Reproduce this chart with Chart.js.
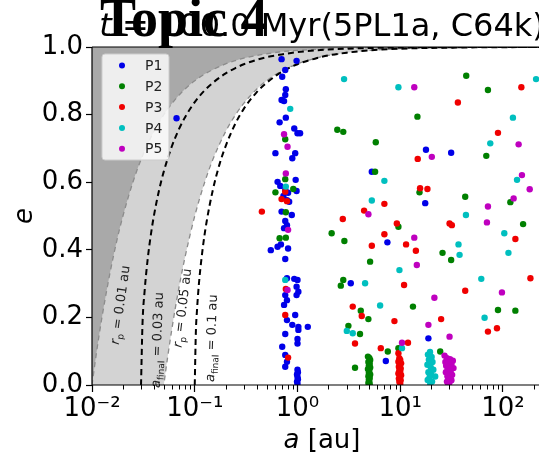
<!DOCTYPE html>
<html><head><meta charset="utf-8">
<script src="https://cdn.jsdelivr.net/npm/chart.js@4/dist/chart.umd.min.js"></script>
<style>
html,body{margin:0;padding:0;background:#fff;overflow:hidden;width:539px;height:455px;}
#wrap{position:relative;width:539px;height:455px;overflow:hidden;background:#fff;}
#c{position:absolute;left:0;top:0;width:580px;height:455px;}
#topic{position:absolute;left:100px;top:-9px;font:bold 54px "Liberation Serif";line-height:54px;color:#000;white-space:nowrap;z-index:2;}
</style></head><body>
<div id="wrap"><canvas id="c" width="580" height="455"></canvas><div id="topic">Topic 4</div></div>
<script>
// ---------- data (semi-major axis a [au], eccentricity e) ----------
const seriesNames = ['P1','P2','P3','P4','P5'];
const p1A = [0.70,0.98,0.76,0.71,0.77,0.76,0.70,0.74,0.67,0.77,0.93,1.00,1.06,0.61,0.95,0.89,0.64,0.96,0.68,0.76,0.81,0.98,0.73,0.79,0.83,0.70,0.88,0.76,0.79,0.74,0.55,0.64,0.69,0.81,0.76,0.79,0.93,1.00,0.98,1.02,0.98,0.76,0.79,0.74,0.95,0.79,0.89,1.02,1.26,1.02,0.76,1.00,1.00,0.71,0.76,0.79,0.76,1.00,1.01,0.99,1.00,1.01,0.99,1.00,0.0665,17.8,5.29,17.5,7.50,3.30,18.8,7.24,31.3];
const p1E = [0.964,0.959,0.932,0.912,0.875,0.858,0.843,0.840,0.777,0.791,0.759,0.745,0.745,0.686,0.686,0.671,0.601,0.607,0.589,0.577,0.569,0.574,0.559,0.547,0.542,0.513,0.503,0.485,0.473,0.464,0.399,0.409,0.416,0.404,0.373,0.316,0.314,0.311,0.291,0.276,0.266,0.266,0.251,0.237,0.207,0.192,0.178,0.172,0.172,0.163,0.151,0.136,0.123,0.113,0.089,0.069,0.054,0.045,0.038,0.031,0.024,0.017,0.010,0.004,0.789,0.696,0.631,0.538,0.422,0.301,0.138,0.071,0.687];
const p2A = [0.76,0.76,0.61,0.91,0.77,0.67,0.77,2.44,2.79,14.7,5.78,5.69,15.4,43.9,71.4,68.8,42.9,118,2.15,2.86,9.60,5.09,2.79,2.64,4.13,4.90,3.13,4.06,7.57,9.60,3.63,13.3,157,25.8,31.3,89.4,132,24.5,4.85,5.0,5.1,4.9,5.05,4.95,5.1,4.85,5.0,4.95,5.1,4.9,5.05,4.95,5.0,4.9,5.05];
const p2E = [0.727,0.609,0.570,0.580,0.511,0.434,0.436,0.755,0.749,0.794,0.718,0.631,0.570,0.915,0.873,0.678,0.557,0.541,0.449,0.426,0.468,0.365,0.311,0.294,0.220,0.195,0.175,0.151,0.099,0.109,0.051,0.232,0.476,0.391,0.370,0.222,0.220,0.099,0.084,0.080,0.074,0.068,0.063,0.057,0.052,0.047,0.042,0.036,0.031,0.026,0.021,0.016,0.011,0.006,0.002];
const p3A = [0.76,0.70,0.79,0.45,0.77,0.76,0.81,14.8,15.6,18.4,7.01,4.45,2.76,9.27,7.01,5.29,11.4,14.2,10.9,3.45,4.22,8.78,3.63,6.47,11.9,9.60,151,36.4,89.4,30.2,31.8,132,185,42.9,25.0,71.4,87.4,9.8,10.0,9.6,10.2,9.9,9.7,10.1,9.8,10.0,9.6,10.2,9.9,9.7,10.1,9.8,10.0];
const p3E = [0.572,0.550,0.544,0.513,0.284,0.207,0.081,0.669,0.582,0.580,0.536,0.516,0.491,0.478,0.446,0.412,0.416,0.397,0.296,0.232,0.204,0.189,0.123,0.109,0.125,0.094,0.881,0.836,0.746,0.478,0.473,0.432,0.316,0.279,0.195,0.158,0.168,0.079,0.074,0.069,0.064,0.059,0.054,0.049,0.044,0.039,0.034,0.029,0.024,0.019,0.014,0.009,0.004];
const p4A = [0.85,0.77,0.76,2.84,9.60,7.01,5.29,4.55,6.37,9.82,3.02,3.45,10.4,210,125,75.2,137,43.6,103,36.9,37.8,113,61.5,66.2,19.5,18.6,20.2,19.0,20.6,18.4,19.8,21.0,18.8,20.0,19.3,21.9,18.5,20.4,19.6];
const p4E = [0.817,0.587,0.311,0.905,0.881,0.604,0.546,0.301,0.235,0.340,0.160,0.153,0.109,0.905,0.791,0.715,0.607,0.503,0.449,0.416,0.385,0.391,0.314,0.199,0.098,0.090,0.083,0.075,0.068,0.060,0.053,0.045,0.038,0.030,0.023,0.025,0.015,0.010,0.004];
const p5A = [0.74,0.80,0.77,0.81,0.80,13.7,20.3,4.90,13.7,14.5,21.5,18.8,10.4,142,153,182,127,71.4,69.8,97.7,30.2,27.0,28.5,30.5,32.5,27.5,29.5,31.5,28.0,30.0,33.0,29.0,31.0,27.8,30.2,32.0,28.8,30.8,29.5,31.5,28.5,30.0,29.2];
const p5E = [0.742,0.705,0.626,0.459,0.281,0.881,0.675,0.505,0.436,0.355,0.258,0.178,0.125,0.712,0.621,0.579,0.552,0.528,0.481,0.274,0.143,0.087,0.079,0.076,0.072,0.068,0.065,0.061,0.057,0.053,0.050,0.046,0.042,0.038,0.034,0.030,0.026,0.022,0.018,0.014,0.010,0.006,0.002];

// boundary curves
const rpA   = [0.01,0.011,0.0125,0.015,0.0175,0.02,0.025,0.03,0.035,0.04,0.05,0.06,0.07,0.08,0.1,0.125,0.15,0.2,0.25,0.3,0.4,0.5,0.7,1,1.5,2,3,5,10,30,100,300];
const rp001E = [0,0.091,0.2,0.333,0.429,0.5,0.6,0.667,0.714,0.75,0.8,0.833,0.857,0.875,0.9,0.92,0.933,0.95,0.96,0.967,0.975,0.98,0.986,0.99,0.993,0.995,0.997,0.998,0.999,0.9997,0.9999,1.0];
const rp005E = [-4,-3.545,-3,-2.333,-1.857,-1.5,-1,-0.667,-0.429,-0.25,0,0.167,0.286,0.375,0.5,0.6,0.667,0.75,0.8,0.833,0.875,0.9,0.929,0.95,0.967,0.975,0.983,0.99,0.995,0.998,0.9995,0.9998];
const af003A = [0.03,0.031,0.0325,0.035,0.0375,0.04,0.045,0.05,0.06,0.07,0.08,0.1,0.125,0.15,0.2,0.25,0.3,0.4,0.5,0.7,1,1.5,2,3,5,10,30,100,300];
const af003E = [0,0.180,0.277,0.378,0.447,0.5,0.577,0.632,0.707,0.756,0.791,0.837,0.872,0.894,0.922,0.938,0.949,0.962,0.970,0.978,0.985,0.990,0.9925,0.995,0.997,0.9985,0.9995,0.99985,0.99995];
const af01A = [0.1,0.1025,0.105,0.11,0.12,0.13,0.15,0.175,0.2,0.25,0.3,0.4,0.5,0.7,1,1.5,2,3,5,10,30,100,300];
const af01E = [0,0.156,0.218,0.302,0.408,0.480,0.577,0.655,0.707,0.775,0.817,0.866,0.894,0.926,0.949,0.966,0.975,0.983,0.990,0.995,0.998,0.9995,0.9998];

const xTickValues = [0.01,0.1,1,10,100];
const xTickLabels = ['10\u207B\u00B2','10\u207B\u00B9','10\u2070','10\u00B9','10\u00B2'];
const xMinorTicks = [0.02,0.03,0.04,0.05,0.06,0.07,0.08,0.09,0.2,0.3,0.4,0.5,0.6,0.7,0.8,0.9,2,3,4,5,6,7,8,9,20,30,40,50,60,70,80,90,200,300];
const yTickValues = [0,0.2,0.4,0.6,0.8,1.0];

// ---------- styling ----------
const colors = ['#0000e8','#008000','#f00000','#00bfbf','#bf00bf'];
const FONT = '"DejaVu Sans"';
const pts = (A,E)=>A.map((a,i)=>({x:a,y:E[i]}));
const seriesA = [p1A,p2A,p3A,p4A,p5A], seriesE = [p1E,p2E,p3E,p4E,p5E];

const datasets = seriesNames.map((n,i)=>({
  label:n, data:pts(seriesA[i],seriesE[i]), backgroundColor:colors[i], borderColor:colors[i],
  borderWidth:0, pointRadius:3.2, pointHoverRadius:3.2, order:5-i, clip:0, showLine:false
}));
const curveBase = {type:'line', pointRadius:0, pointHoverRadius:0, cubicInterpolationMode:'monotone', clip:0};
datasets.push(Object.assign({}, curveBase, {label:'rp005', data:pts(rpA,rp005E), fill:'end', backgroundColor:'#d3d3d3', borderColor:'#8c8c8c', borderWidth:1.3, borderDash:[5,4], order:21}));
datasets.push(Object.assign({}, curveBase, {label:'rp001', data:pts(rpA,rp001E), fill:'end', backgroundColor:'#a9a9a9', borderColor:'#8c8c8c', borderWidth:1.3, borderDash:[5,4], order:20}));
datasets.push(Object.assign({}, curveBase, {label:'af003', data:pts(af003A,af003E), fill:false, borderColor:'#000', borderWidth:2, borderDash:[6,4], order:11}));
datasets.push(Object.assign({}, curveBase, {label:'af01', data:pts(af01A,af01E), fill:false, borderColor:'#000', borderWidth:2, borderDash:[6,4], order:10}));

const curveLabels = [
  {a:0.0186, e:0.237, ang:-82, parts:[{t:'r',it:1},{t:'p',sub:1},{t:' = 0.01 au'}]},
  {a:0.0427, e:0.133, ang:-88, parts:[{t:'a',it:1},{t:'final',sub:1},{t:' = 0.03 au'}]},
  {a:0.0749, e:0.228, ang:-83, parts:[{t:'r',it:1},{t:'p',sub:1},{t:' = 0.05 au'}]},
  {a:0.1435, e:0.139, ang:-88, parts:[{t:'a',it:1},{t:'final',sub:1},{t:' = 0.1 au'}]}
];

function drawRich(ctx, parts, cx, cy, ang, size, yOff, color){
  ctx.save();
  ctx.translate(cx,cy); ctx.rotate(ang*Math.PI/180);
  const f = p => (p.it?'italic ':'') + (p.sub?Math.round(size*0.7):size) + 'px ' + FONT;
  let w = 0;
  parts.forEach(p=>{ctx.font=f(p); p.w=ctx.measureText(p.t).width; w+=p.w;});
  let x = -w/2;
  ctx.fillStyle = color || '#000'; ctx.textAlign='left'; ctx.textBaseline='alphabetic';
  parts.forEach(p=>{ctx.font=f(p); ctx.fillText(p.t, x, yOff + (p.sub? size*0.28:0)); x+=p.w;});
  ctx.restore();
}

const decor = {
  id:'decor',
  afterDraw(chart){
    const ctx = chart.ctx, ca = chart.chartArea, xs = chart.scales.x, ys = chart.scales.y;
    curveLabels.forEach(l=>{
      drawRich(ctx, l.parts, xs.getPixelForValue(l.a), ys.getPixelForValue(l.e), l.ang, 13, 13*0.35, '#222');
    });
    ctx.save();
    ctx.strokeStyle='#000'; ctx.lineWidth=1.2;
    ctx.beginPath();
    ctx.moveTo(ca.left, ca.top); ctx.lineTo(ca.right, ca.top);
    ctx.moveTo(ca.left, ca.top); ctx.lineTo(ca.left, ca.bottom);
    ctx.moveTo(ca.left, ca.bottom); ctx.lineTo(ca.right, ca.bottom);
    ctx.moveTo(ca.right, ca.top); ctx.lineTo(ca.right, ca.bottom);
    ctx.stroke();
    ctx.lineWidth=1;
    ctx.beginPath();
    xMinorTicks.forEach(v=>{const px=Math.round(xs.getPixelForValue(v))+0.5; ctx.moveTo(px, ca.bottom); ctx.lineTo(px, ca.bottom+4.5);});
    ctx.stroke();
    ctx.restore();
    // legend
    ctx.save();
    const lx = ca.left+10, ly = ca.top+7, lw = 67, lh = 106;
    ctx.fillStyle='rgba(255,255,255,0.8)'; ctx.strokeStyle='#cccccc'; ctx.lineWidth=1;
    ctx.beginPath();
    if (ctx.roundRect) ctx.roundRect(lx, ly, lw, lh, 3); else ctx.rect(lx, ly, lw, lh);
    ctx.fill(); ctx.stroke();
    seriesNames.forEach((n,i)=>{
      const y = ca.top + 18.5 + i*20.8;
      ctx.fillStyle = colors[i];
      ctx.beginPath(); ctx.arc(ca.left+30, y, 3, 0, Math.PI*2); ctx.fill();
      ctx.fillStyle='#222'; ctx.font='14px '+FONT; ctx.textBaseline='middle'; ctx.textAlign='left';
      ctx.fillText(n, ca.left+53, y+1);
    });
    ctx.restore();
    const cxm = (ca.left+ca.right)/2;
    drawRich(ctx, [{t:'a',it:1},{t:' [au]'}], cxm, 448, 0, 26, 0, '#000');
    drawRich(ctx, [{t:'e',it:1}], 25, (ca.top+ca.bottom)/2, -90, 26, 7, '#000');
    drawRich(ctx, [{t:'t',it:1},{t:' = 100.0 Myr(5PL1a, C64k)'}], cxm, 36, 0, 32, 0, '#000');
  }
};

new Chart(document.getElementById('c'), {
  type:'scatter',
  data:{datasets},
  options:{
    responsive:false, animation:false, devicePixelRatio:1,
    layout:{padding:{top:47,right:28,left:0,bottom:0}},
    plugins:{legend:{display:false}, tooltip:{enabled:false}, title:{display:false}},
    scales:{
      x:{type:'logarithmic', min:0.01, max:300, position:'bottom',
         border:{display:false},
         grid:{drawOnChartArea:false, drawTicks:true, tickLength:7, tickColor:'#000', tickWidth:1.2},
         ticks:{font:{family:'DejaVu Sans', size:26}, color:'#000', padding:2, maxRotation:0, autoSkip:false,
                callback:(v,i)=>xTickLabels[i]},
         afterBuildTicks:s=>{s.ticks = xTickValues.map(v=>({value:v}));},
         afterFit:s=>{s.height=70;}
      },
      y:{type:'linear', min:0, max:1, position:'left',
         border:{display:false},
         grid:{drawOnChartArea:false, drawTicks:true, tickLength:6, tickColor:'#000', tickWidth:1.2},
         ticks:{font:{family:'DejaVu Sans', size:26}, color:'#000', padding:3,
                callback:v=>Number(v).toFixed(1)},
         afterBuildTicks:s=>{s.ticks = yTickValues.map(v=>({value:v}));},
         afterFit:s=>{s.width=92;}
      }
    }
  },
  plugins:[decor]
});
</script>
</body></html>
